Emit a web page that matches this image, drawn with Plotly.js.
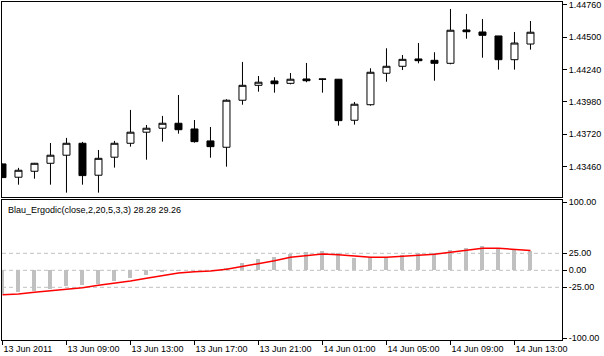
<!DOCTYPE html>
<html>
<head>
<meta charset="utf-8">
<script src="https://cdn.plot.ly/plotly-3.0.1.min.js"></script>
<style>
  html, body { margin: 0; padding: 0; background: #fff; }
  #chart { width: 604px; height: 356px; }
</style>
</head>
<body>
<div id="chart"></div>
<script>
// Hourly bars, 13 Jun 2011 05:00 .. 14 Jun 2011 14:00
const times = [
  "13 Jun 05:00","13 Jun 06:00","13 Jun 07:00","13 Jun 08:00","13 Jun 09:00","13 Jun 10:00",
  "13 Jun 11:00","13 Jun 12:00","13 Jun 13:00","13 Jun 14:00","13 Jun 15:00","13 Jun 16:00",
  "13 Jun 17:00","13 Jun 18:00","13 Jun 19:00","13 Jun 20:00","13 Jun 21:00","13 Jun 22:00",
  "13 Jun 23:00","14 Jun 00:00","14 Jun 01:00","14 Jun 02:00","14 Jun 03:00","14 Jun 04:00",
  "14 Jun 05:00","14 Jun 06:00","14 Jun 07:00","14 Jun 08:00","14 Jun 09:00","14 Jun 10:00",
  "14 Jun 11:00","14 Jun 12:00","14 Jun 13:00","14 Jun 14:00"
];
const openP = [
  1.43482,1.43375,1.43423,1.43487,1.43552,1.43648,1.43391,1.43536,1.43648,1.43737,
  1.43769,1.43809,1.43763,1.43667,1.43616,1.43994,1.44114,1.44149,1.44130,1.44165,
  1.44165,1.44163,1.43833,1.43958,1.44211,1.44267,1.44326,1.44315,1.44291,1.44559,
  1.44543,1.44511,1.44320,1.44446
];
const highP = [
  1.43484,1.43450,1.43490,1.43650,1.43691,1.43659,1.43594,1.43667,1.43916,1.43795,
  1.43868,1.44036,1.43835,1.43779,1.44002,1.44302,1.44189,1.44179,1.44213,1.44294,
  1.44167,1.44165,1.43980,1.44251,1.44412,1.44358,1.44454,1.44380,1.44728,1.44688,
  1.44647,1.44511,1.44543,1.44631
];
const lowP = [
  1.43370,1.43315,1.43363,1.43315,1.43251,1.43315,1.43251,1.43452,1.43621,1.43516,
  1.43661,1.43725,1.43653,1.43532,1.43460,1.43958,1.44063,1.44055,1.44122,1.44139,
  1.44055,1.43790,1.43798,1.43950,1.44143,1.44237,1.44291,1.44151,1.44283,1.44489,
  1.44336,1.44240,1.44240,1.44401
];
const closeP = [
  1.43372,1.43431,1.43487,1.43552,1.43648,1.43388,1.43527,1.43648,1.43737,1.43769,
  1.43809,1.43757,1.43661,1.43621,1.43994,1.44114,1.44139,1.44127,1.44163,1.44151,
  1.44163,1.43830,1.43962,1.44219,1.44267,1.44323,1.44312,1.44291,1.44557,1.44545,
  1.44516,1.44320,1.44454,1.44541
];
// Blau Ergodic indicator buffers
const ergodic = [
  -34.5,-32.4,-30.4,-27.5,-23.1,-21.1,-19.6,-15.2,-11.3,-6.9,
  -2.5,-0.8,0.3,0.6,3.4,10.8,16.7,19.6,24.0,26.9,
  28.4,25.0,18.1,19.1,19.1,22.3,25.2,25.4,29.9,33.0,
  35.7,32.0,30.5,28.28
];
const signal = [
  -36.0,-34.9,-32.4,-30.4,-27.9,-25.5,-22.1,-19.1,-15.7,-11.8,
  -7.4,-4.0,-2.0,-1.0,1.4,5.4,9.3,14.1,19.1,22.1,
  24.0,23.0,20.6,19.1,19.1,20.6,22.1,23.5,26.5,29.4,
  32.4,32.4,30.9,29.26
];
const timeTickIdx = [0,4,8,12,16,20,24,28,32];
const timeTickText = ["13 Jun 2011","13 Jun 09:00","13 Jun 13:00","13 Jun 17:00","13 Jun 21:00",
                      "14 Jun 01:00","14 Jun 05:00","14 Jun 09:00","14 Jun 13:00"];
const priceTicks = [1.43460,1.43720,1.43980,1.44240,1.44500,1.44760];
const indTicks = [100,25,0,-25,-100];
const indTickText = ["100.00","25.00","0.00","-25.00","-100.00"];
const levels = [25,0,-25];
const indicatorLabel = "Blau_Ergodic(close,2,20,5,3,3) 28.28 29.26";

const xs = times.map((_, i) => i);

const traces = [
  {
    type: 'candlestick', x: xs, open: openP, high: highP, low: lowP, close: closeP,
    xaxis: 'x', yaxis: 'y',
    increasing: { line: { color: '#000', width: 1 }, fillcolor: '#ffffff' },
    decreasing: { line: { color: '#000', width: 1 }, fillcolor: '#000000' },
    whiskerwidth: 0, hoverinfo: 'skip', showlegend: false
  },
  {
    type: 'bar', x: xs, y: ergodic, xaxis: 'x2', yaxis: 'y2',
    width: 0.25, marker: { color: '#C0C0C0', line: { width: 0 } },
    hoverinfo: 'skip', showlegend: false
  },
  {
    type: 'scatter', mode: 'lines', x: xs, y: signal, xaxis: 'x2', yaxis: 'y2',
    line: { color: '#FF0000', width: 1.5 }, hoverinfo: 'skip', showlegend: false
  }
];

const xRange = [-0.03, 34.97];
const axisCommon = {
  showgrid: false, zeroline: false, showline: true, mirror: true,
  linecolor: '#000', linewidth: 1, fixedrange: true
};

const layout = {
  width: 604, height: 356,
  margin: { l: 2, r: 42, t: 2, b: 16, pad: 0 },
  paper_bgcolor: '#ffffff', plot_bgcolor: '#ffffff',
  showlegend: false,
  boxgap: 0.375,
  bargap: 0,
  font: { family: 'Liberation Sans, Arial, sans-serif', size: 9, color: '#000' },
  xaxis: Object.assign({}, axisCommon, {
    domain: [0, 1], anchor: 'y', range: xRange, showticklabels: false, ticks: '',
    rangeslider: { visible: false }
  }),
  yaxis: Object.assign({}, axisCommon, {
    domain: [0.4231, 1], anchor: 'x', side: 'right', range: [1.43216, 1.44784],
    tickvals: priceTicks, tickformat: '.5f', ticks: 'outside', ticklen: 4, tickcolor: '#000'
  }),
  xaxis2: Object.assign({}, axisCommon, {
    domain: [0, 1], anchor: 'y2', range: xRange,
    tickvals: timeTickIdx, ticktext: timeTickText, ticks: 'outside', ticklen: 4, tickcolor: '#000',
    ticklabelposition: 'outside right'
  }),
  yaxis2: Object.assign({}, axisCommon, {
    domain: [0, 0.4142], anchor: 'x2', side: 'right', range: [-102.5, 103.4],
    tickvals: indTicks, ticktext: indTickText, ticks: 'outside', ticklen: 4, tickcolor: '#000'
  }),
  shapes: levels.map(v => ({
    type: 'line', xref: 'x2 domain', yref: 'y2', x0: 0, x1: 1, y0: v, y1: v,
    layer: 'below', line: { color: '#C0C0C0', width: 1, dash: '4px,3px' }
  })),
  annotations: [{
    text: indicatorLabel, xref: 'paper', yref: 'paper', x: 0.0071, y: 0.386,
    xanchor: 'left', yanchor: 'middle', showarrow: false,
    font: { family: 'Liberation Sans, Arial, sans-serif', size: 9, color: '#000' }
  }]
};

Plotly.newPlot('chart', traces, layout, { staticPlot: true, displayModeBar: false });
</script>
</body>
</html>
